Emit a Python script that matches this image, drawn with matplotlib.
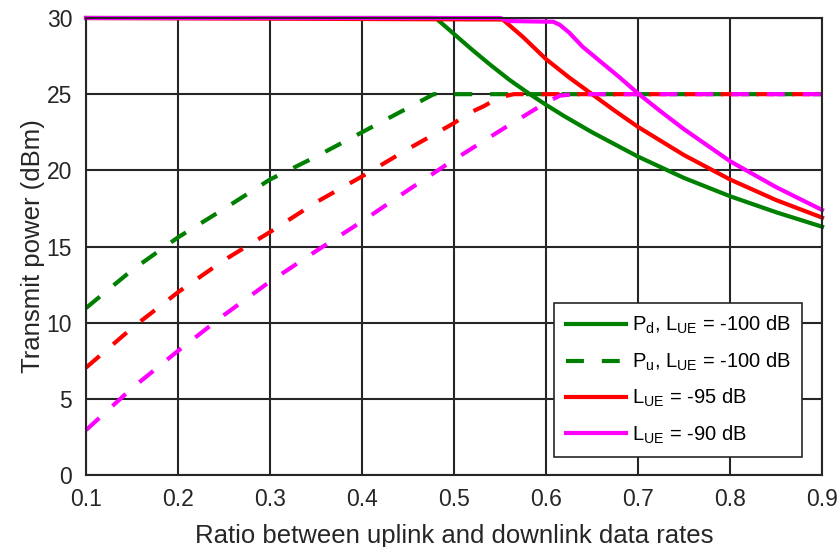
import matplotlib
matplotlib.use("Agg")
import matplotlib.pyplot as plt

# downlink power (solid)
x_pd_100 = [0.1, 0.48, 0.5, 0.52, 0.54, 0.56, 0.58, 0.6, 0.62, 0.65, 0.7, 0.75, 0.8, 0.85, 0.9]
pd_100 = [30, 30, 28.95, 27.9, 26.9, 25.95, 25.1, 24.3, 23.55, 22.5, 20.9, 19.5, 18.3, 17.25, 16.3]

x_pd_95 = [0.1, 0.553, 0.575, 0.6, 0.625, 0.65, 0.675, 0.7, 0.75, 0.8, 0.85, 0.9]
pd_95 = [30, 29.9, 28.75, 27.3, 26.1, 25.0, 23.9, 22.85, 21.0, 19.4, 18.05, 16.9]

x_pd_90 = [0.1, 0.55, 0.56, 0.608, 0.615, 0.625, 0.64, 0.66, 0.68, 0.7, 0.725, 0.75, 0.8, 0.85, 0.9]
pd_90 = [30, 30, 29.8, 29.75, 29.55, 29.05, 28.1, 27.1, 26.1, 25.05, 23.85, 22.7, 20.6, 18.9, 17.4]

# uplink power (dashed)
x_pu_100 = [0.1, 0.15, 0.2, 0.25, 0.3, 0.35, 0.4, 0.45, 0.478, 0.9]
pu_100 = [10.96, 13.45, 15.6, 17.47, 19.4, 20.9, 22.5, 24.1, 25, 25]

x_pu_95 = [0.1, 0.15, 0.2, 0.25, 0.3, 0.35, 0.4, 0.45, 0.5, 0.516, 0.532, 0.55, 0.565, 0.9]
pu_95 = [7.05, 9.65, 12.0, 14.1, 15.95, 17.9, 19.6, 21.4, 23.1, 23.75, 24.2, 24.8, 25, 25]

x_pu_90 = [0.1, 0.15, 0.2, 0.25, 0.3, 0.35, 0.4, 0.45, 0.5, 0.55, 0.6, 0.615, 0.63, 0.9]
pu_90 = [2.95, 5.7, 8.15, 10.5, 12.7, 14.7, 16.65, 18.7, 20.7, 22.6, 24.45, 24.9, 25, 25]

xticks = [0.1, 0.2, 0.3, 0.4, 0.5, 0.6, 0.7, 0.8, 0.9]
yticks = [0, 5, 10, 15, 20, 25, 30]

plt.rcParams['font.family'] = ['Liberation Sans', 'DejaVu Sans']
plt.rcParams['mathtext.default'] = 'regular'

green = '#008000'
red = '#ff0000'
magenta = '#ff00ff'
dark = '#262626'
lw = 3
dash = (0, (4.3, 4.3))

fig = plt.figure(figsize=(8.4, 5.47), dpi=100)
ax = fig.add_axes([0.1024, 0.1316, 0.8762, 0.8355])

ax.plot(x_pd_100, pd_100, color=green, lw=lw, clip_on=False,
        label=r'P$_{d}$, L$_{UE}$ = -100 dB')
ax.plot(x_pu_100, pu_100, color=green, lw=lw, ls=dash, clip_on=False,
        label=r'P$_{u}$, L$_{UE}$ = -100 dB')
ax.plot(x_pd_95, pd_95, color=red, lw=lw, clip_on=False,
        label=r'L$_{UE}$ = -95 dB')
ax.plot(x_pu_95, pu_95, color=red, lw=lw, ls=dash, clip_on=False)
ax.plot(x_pd_90, pd_90, color=magenta, lw=lw, clip_on=False,
        label=r'L$_{UE}$ = -90 dB')
ax.plot(x_pu_90, pu_90, color=magenta, lw=lw, ls=dash, clip_on=False)

ax.set_xlim(0.1, 0.9)
ax.set_ylim(0, 30)
ax.set_xticks(xticks)
ax.set_yticks(yticks)
ax.set_xticklabels([f'{t:g}' for t in xticks])
ax.grid(True, color=dark, lw=1.5, alpha=1)
ax.set_axisbelow(True)
ax.tick_params(length=0, labelsize=16.5, colors=dark)
ax.tick_params(axis='y', pad=10)
ax.tick_params(axis='x', pad=9)
for s in ax.spines.values():
    s.set_color(dark)
    s.set_linewidth(1.5)

ax.set_xlabel('Ratio between uplink and downlink data rates', fontsize=18.5, color=dark, labelpad=10)
ax.set_ylabel('Transmit power (dBm)', fontsize=18.5, color=dark, labelpad=1)

leg = ax.legend(loc='lower right', bbox_to_anchor=(0.973, 0.04), borderaxespad=0,
                fontsize=14.5, handlelength=3.0, handletextpad=0.3, fancybox=False,
                framealpha=1, edgecolor=dark, labelspacing=0.7, borderpad=0.55)
leg.get_frame().set_linewidth(1.2)

fig.savefig('out.png', dpi=100)
